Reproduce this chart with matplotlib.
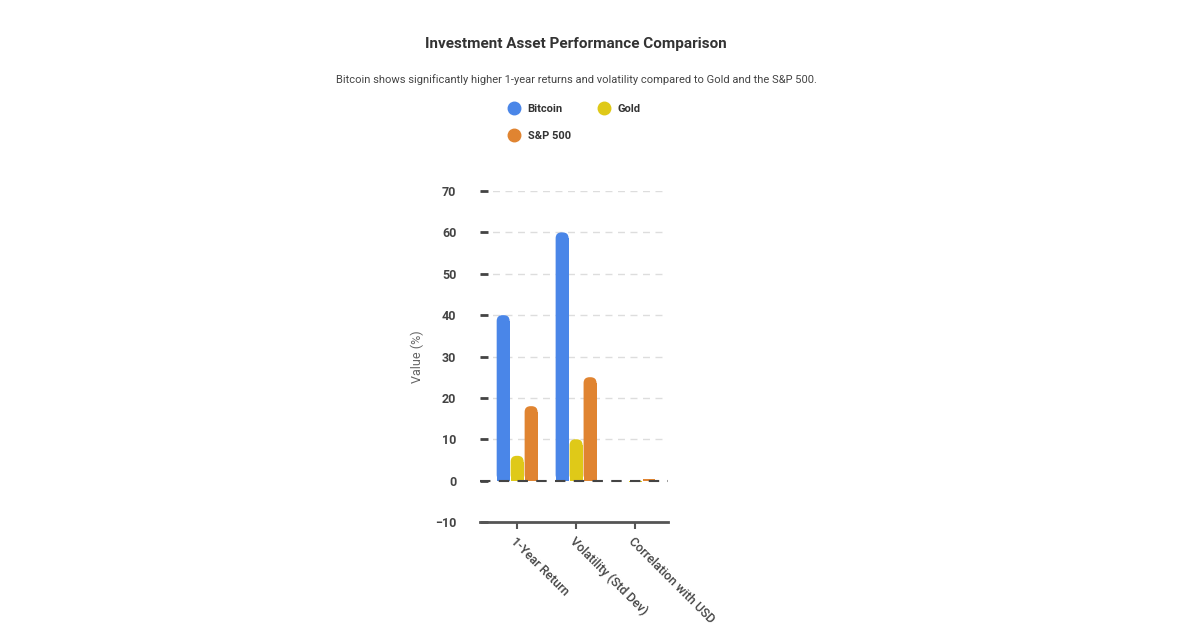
import matplotlib
matplotlib.use('Agg')
import matplotlib.pyplot as plt
import numpy as np
from matplotlib.lines import Line2D
from matplotlib.patches import FancyBboxPatch, Rectangle

plt.rcParams['font.family'] = ['Roboto', 'DejaVu Sans']

categories = ['1-Year Return', 'Volatility (Std Dev)', 'Correlation with USD']
series_names = ['Bitcoin', 'Gold', 'S&P 500']
bitcoin = [40, 60, -0.1]
gold = [6, 10, -0.3]
sp500 = [18, 25, 0.5]
colors = ['#4A86E8', '#DFC918', '#E08431']
yticks = [-10, 0, 10, 20, 30, 40, 50, 60, 70]

fig = plt.figure(figsize=(12, 6.3), dpi=100)
ax = fig.add_axes([0.4, 0.1714, 0.1567, 0.5254])
ax.set_xlim(-0.63, 2.56)
ax.set_ylim(-10, 70)

x = np.arange(len(categories))
width = 0.237
bar_w = 0.22
# rounded tops: radius in x units, aspect = y units per x unit on screen
rad = 0.1
aspect = (80 / 331) * 59
data = [bitcoin, gold, sp500]
for i, d in enumerate(data):
    for xi, v in zip(x, d):
        left = xi + (i - 1) * width - bar_w / 2
        if v > rad * aspect:
            ax.add_patch(FancyBboxPatch((left, 0), bar_w, v,
                                        boxstyle='round,pad=0,rounding_size=%f' % rad,
                                        mutation_aspect=aspect, fc=colors[i], ec='none', zorder=3))
            ax.add_patch(Rectangle((left, 0), bar_w, v - rad * aspect,
                                   fc=colors[i], ec='none', zorder=3))
        else:
            ax.add_patch(Rectangle((left, 0), bar_w, v, fc=colors[i], ec='none', zorder=3))

ax.set_yticks(yticks)
ax.set_xticks(x)
ax.set_xticklabels(categories, rotation=-45, ha='left', va='top',
                   rotation_mode='anchor', fontsize=9, color='#444444', fontweight='medium')
for lab in ax.get_yticklabels():
    lab.set_fontweight('bold')
ax.tick_params(axis='y', direction='in', length=6, width=2, color='#444444', labelsize=9,
               labelcolor='#444444', pad=17)
ax.tick_params(axis='x', length=5, width=1.5, color='#555555', pad=4)

for v in yticks[2:]:
    ax.axhline(v, color='#DDDDDD', lw=1, ls=(0, (5, 4)), zorder=1)
ax.axhline(0, color='#444444', lw=1.5, ls=(0, (5, 4)), zorder=4)

for s in ['top', 'right', 'left']:
    ax.spines[s].set_visible(False)
ax.spines['bottom'].set_color('#555555')
ax.spines['bottom'].set_linewidth(2)

ax.set_ylabel('Value (%)', fontsize=9, color='#666666', labelpad=8)

fig.text(0.48, 0.930, 'Investment Asset Performance Comparison', ha='center',
         va='center', fontsize=11, fontweight='bold', color='#333333')
fig.text(0.48, 0.873, 'Bitcoin shows significantly higher 1-year returns and volatility compared to Gold and the S&P 500.',
         ha='center', va='center', fontsize=8, color='#444444')

# order so that columns fill as: row1 Bitcoin, Gold; row2 S&P 500
order = [0, 2, 1]
handles = [Line2D([], [], marker='o', ls='', markersize=9, color=colors[k]) for k in order]
labels = [series_names[k] for k in order]
leg = fig.legend(handles, labels, loc='upper left', bbox_to_anchor=(0.411, 0.851),
                 ncol=2, frameon=False, fontsize=8, handletextpad=0.2,
                 columnspacing=2.0, labelspacing=1.5)
for t in leg.get_texts():
    t.set_fontweight('bold')
    t.set_color('#333333')

fig.savefig('out.png', dpi=100)
